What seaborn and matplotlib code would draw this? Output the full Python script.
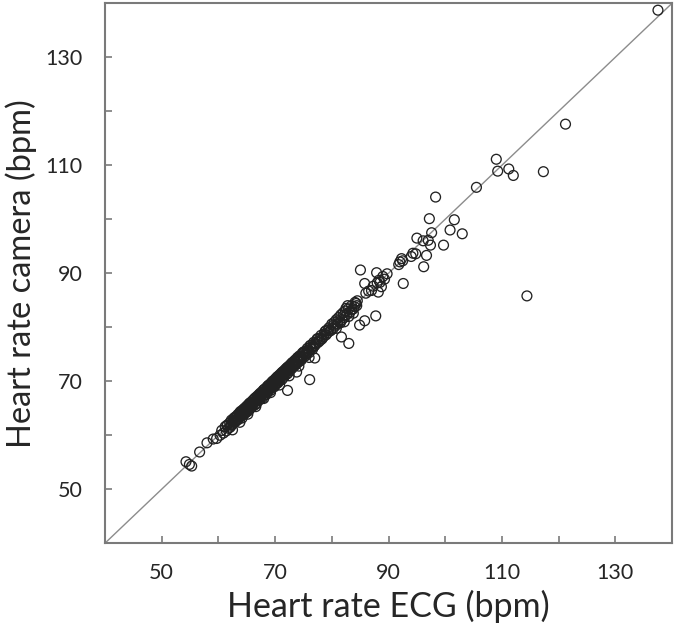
import numpy as np
import pandas as pd
import seaborn as sns
import matplotlib.pyplot as plt
from matplotlib.ticker import FixedLocator

# heart rate pairs: ECG (x) vs camera (y), bpm
ecg_low = [54.9, 54.3, 55.3, 56.7, 58.0, 59.7, 60.3, 59.1]
cam_low = [54.6, 55.1, 54.3, 56.9, 58.6, 59.4, 60.0, 59.3]

ecg_band = [60.6, 60.9, 61.2, 61.4, 61.6, 61.8, 62.0, 62.1, 62.3, 62.4, 62.6, 62.7, 62.9, 63.0,
            63.1, 63.3, 63.4, 63.5, 63.7, 63.8, 63.9, 64.0, 64.1, 64.2, 64.3, 64.4, 64.5, 64.6,
            64.7, 64.8, 64.9, 65.0, 65.1, 65.2, 65.3, 65.4, 65.5, 65.6, 65.7, 65.8, 65.9, 66.0,
            66.1, 66.2, 66.3, 66.4, 66.5, 66.6, 66.7, 66.8, 66.9, 67.0, 67.1, 67.2, 67.3, 67.4,
            67.5, 67.6, 67.7, 67.8, 67.9, 68.0, 68.1, 68.2, 68.3, 68.4, 68.5, 68.6, 68.7, 68.8,
            68.9, 69.0, 69.1, 69.2, 69.3, 69.4, 69.5, 69.6, 69.7, 69.8, 69.9, 70.0, 70.1, 70.2,
            70.3, 70.4, 70.5, 70.6, 70.7, 70.8, 70.9, 71.0, 71.1, 71.2, 71.3, 71.4, 71.5, 71.6,
            71.7, 71.8, 71.9, 72.0, 72.2, 72.3, 72.4, 72.6, 72.7, 72.8, 73.0, 73.1, 73.2, 73.4,
            73.5, 73.6, 73.8, 73.9, 74.0, 74.2, 74.3, 74.5, 74.6, 74.8, 74.9, 75.1, 75.2, 75.4,
            75.5, 75.7, 75.9, 76.0, 76.2, 76.4, 76.6, 76.8, 77.0, 77.2, 77.4, 77.6, 77.9, 78.1,
            78.3, 78.6, 78.8, 79.0, 79.3, 79.5, 79.8, 80.0, 80.2, 80.4, 80.6, 80.8, 81.0, 81.2,
            81.4, 81.6, 81.8, 82.0, 82.2, 82.4, 82.6, 82.9, 83.2, 83.5, 83.8, 84.1]
cam_band = [60.9, 60.4, 61.6, 60.8, 61.9, 61.3, 62.3, 61.5, 62.8, 61.9, 62.2, 63.1, 62.4, 63.4,
            62.6, 63.0, 63.8, 62.9, 64.1, 63.3, 64.4, 63.6, 64.0, 63.2, 64.7, 64.1, 63.8, 65.0,
            64.4, 64.9, 64.2, 65.4, 64.7, 65.3, 64.5, 65.8, 65.2, 64.9, 66.1, 65.5, 65.9, 65.3,
            66.5, 65.9, 66.2, 65.6, 66.9, 66.3, 65.8, 67.2, 66.6, 67.0, 66.4, 67.6, 67.1, 66.7,
            67.9, 67.3, 67.6, 66.9, 68.3, 67.8, 67.4, 68.6, 68.0, 68.3, 67.6, 69.0, 68.5, 68.1,
            69.3, 68.7, 69.1, 68.3, 69.7, 69.2, 68.8, 70.0, 69.5, 69.6, 69.0, 70.4, 70.0, 69.5,
            70.7, 70.3, 69.7, 71.0, 70.6, 70.1, 71.3, 70.8, 71.0, 70.3, 71.7, 71.2, 70.7, 72.0,
            71.5, 71.1, 72.3, 71.8, 71.4, 72.7, 72.2, 71.9, 73.1, 72.5, 72.4, 73.5, 73.0, 72.8,
            73.9, 73.3, 73.2, 74.3, 73.8, 73.6, 74.7, 74.2, 73.9, 75.2, 74.6, 74.5, 75.5, 75.1,
            74.8, 76.1, 75.6, 75.3, 76.6, 76.1, 75.9, 77.2, 76.6, 76.9, 77.8, 77.2, 77.5, 78.5,
            77.9, 78.3, 79.2, 78.6, 79.0, 79.9, 79.4, 80.6, 79.7, 80.9, 80.2, 81.4, 80.6, 81.8,
            81.0, 82.3, 81.4, 82.7, 81.8, 83.0, 82.3, 83.4, 82.8, 84.0, 83.4, 84.6]

ecg_core = [62.5, 63.2, 63.6, 64.0, 64.4, 64.9, 65.3, 65.7, 66.1, 66.5, 66.9, 67.3, 67.7, 68.1,
            68.5, 68.9, 69.3, 69.7, 70.1, 70.5, 70.9, 71.3, 71.8, 72.2, 72.6, 73.1, 73.6, 74.1,
            74.6, 75.1, 75.6, 76.3, 77.0, 77.8, 78.6, 79.4, 80.3, 81.1, 82.1,
            62.5, 63.8, 65.2, 66.6, 68.0, 69.2, 70.8, 72.5, 74.2, 76.0]
cam_core = [62.5, 63.3, 63.5, 64.3, 64.5, 64.8, 65.6, 65.5, 66.0, 66.4, 67.0, 67.4, 67.8, 68.0,
            68.6, 68.8, 69.4, 69.8, 70.3, 70.4, 71.0, 71.3, 71.9, 72.3, 72.7, 73.1, 73.7, 74.2,
            74.6, 75.2, 75.7, 76.3, 77.1, 77.8, 78.7, 79.5, 80.4, 81.2, 82.2,
            61.0, 62.4, 63.9, 65.3, 66.8, 67.9, 69.3, 71.0, 72.8, 74.4]

ecg_extra = [61.5, 62.2, 62.8, 63.3, 63.9, 64.6, 65.0, 65.5, 66.0, 66.4, 66.8, 67.2, 67.6,
             68.0, 68.4, 68.8, 69.2, 69.6, 70.0, 70.4, 70.8, 71.2, 71.6, 72.1, 72.5, 73.0,
             73.5, 74.0, 74.5, 75.0, 75.6, 76.2, 76.8, 77.5, 78.2, 79.0, 79.8]
cam_extra = [61.8, 61.9, 63.2, 62.9, 64.2, 64.2, 65.2, 65.9, 65.6, 66.8, 66.5, 67.5, 67.2,
             68.4, 68.0, 69.2, 68.9, 70.0, 69.6, 70.8, 70.4, 71.6, 71.2, 72.5, 72.1, 73.4,
             73.1, 74.4, 74.1, 75.4, 75.2, 76.6, 76.4, 77.9, 77.8, 79.4, 79.4]

ecg_mid = [72.2, 73.8, 76.1, 77.0, 81.7, 83.0, 84.3, 84.5, 85.8, 84.9, 87.75, 88.2, 85.05, 87.9,
           85.8, 89.0, 88.5, 88.75, 89.75, 92.6, 92.0, 92.3, 92.5, 91.8, 94.0, 94.8, 94.3, 96.7,
           96.2, 95.0, 96.1, 97.0, 97.4, 97.6, 97.2, 98.3, 99.7, 100.85, 101.6, 103.0, 105.5,
           82.5, 83.0, 83.5, 84.0, 82.8, 81.5, 83.8, 84.4, 80.8, 82.2,
           86.0, 86.5, 87.0, 87.3, 88.0, 88.3, 89.3]
cam_mid = [68.3, 71.7, 70.3, 74.3, 78.2, 77.0, 84.4, 84.9, 81.2, 80.4, 82.1, 86.5, 90.6, 90.1,
           88.1, 89.4, 88.3, 87.5, 89.9, 88.1, 92.1, 92.7, 92.3, 91.6, 93.1, 93.6, 93.7, 93.3,
           91.2, 96.5, 96.0, 96.1, 95.2, 97.5, 100.1, 104.1, 95.2, 98.0, 99.9, 97.3, 105.9,
           83.5, 82.0, 83.2, 83.8, 84.0, 80.8, 82.6, 84.0, 79.8, 81.0,
           86.3, 86.7, 86.8, 87.6, 88.2, 88.7, 88.9]

ecg_high = [109.0, 109.25, 111.2, 112.0, 117.3, 121.2, 114.4, 137.5]
cam_high = [111.1, 108.9, 109.3, 108.1, 108.8, 117.6, 85.8, 138.7]

df = pd.DataFrame({
    'ecg': ecg_low + ecg_band + ecg_core + ecg_extra + ecg_mid + ecg_high,
    'camera': cam_low + cam_band + cam_core + cam_extra + cam_mid + cam_high,
})

sns.set_style('ticks')
plt.rcParams['font.family'] = ['Lato', 'DejaVu Sans']

fig, ax = plt.subplots(figsize=(6.81, 6.31), dpi=100)
fig.subplots_adjust(left=0.154, right=0.987, bottom=0.139, top=0.995)

ax.axline((40, 40), slope=1, color='#8c8c8c', linewidth=1.0, zorder=1)
sns.scatterplot(data=df, x='ecg', y='camera', ax=ax, s=50, marker='o',
                facecolors='none', edgecolor='#222222', linewidth=0.95, zorder=2)

ax.set_xlim(40, 140)
ax.set_ylim(40, 140)
ticks = [50, 70, 90, 110, 130]
ax.set_xticks(ticks)
ax.set_yticks(ticks)
ax.xaxis.set_minor_locator(FixedLocator([60, 80, 100, 120]))
ax.yaxis.set_minor_locator(FixedLocator([60, 80, 100, 120]))
for which in ['major', 'minor']:
    ax.tick_params(axis='both', which=which, direction='in', length=5, width=1.2,
                   color='#7a7a7a')
ax.tick_params(axis='x', which='major', pad=14, labelsize=15.5)
ax.tick_params(axis='y', which='major', pad=16, labelsize=15.5)

for sp in ax.spines.values():
    sp.set_visible(True)
    sp.set_color('#7a7a7a')
    sp.set_linewidth(1.5)

ax.set_xlabel('Heart rate ECG (bpm)', fontsize=24.5, labelpad=5)
ax.set_ylabel('Heart rate camera (bpm)', fontsize=23.5, labelpad=6)

fig.savefig('out.png', dpi=100)
